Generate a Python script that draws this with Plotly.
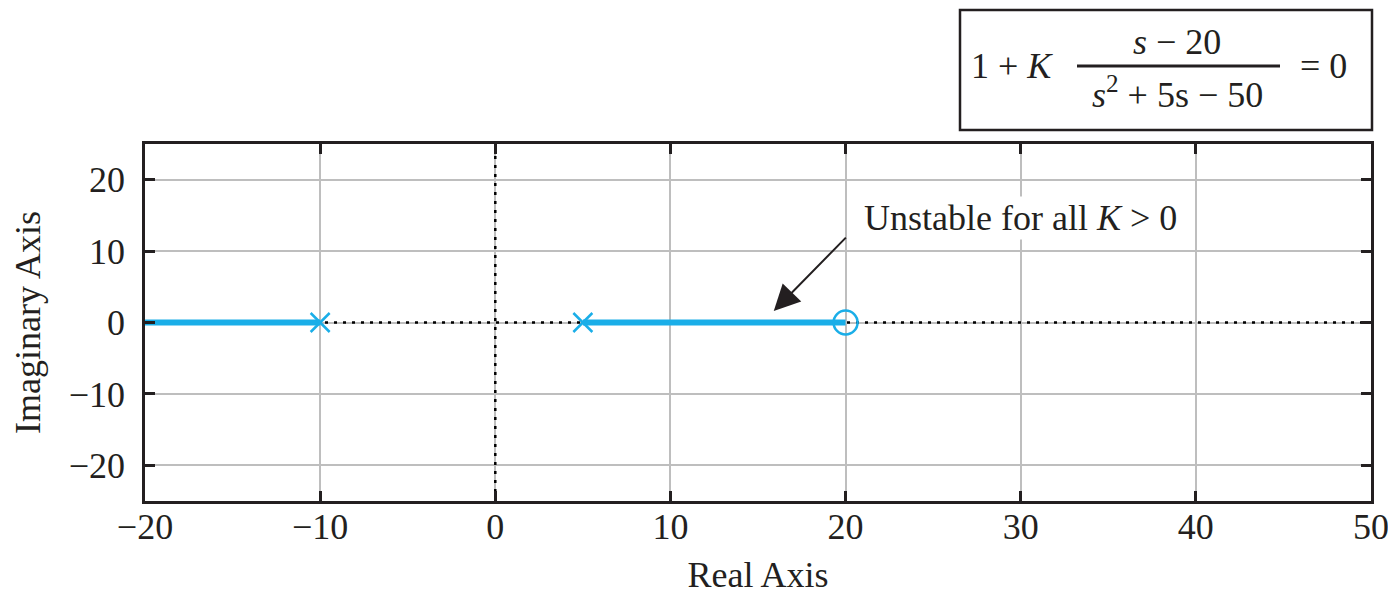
import plotly.graph_objects as go

# Data
poles_re = [-10, 5]
poles_im = [0, 0]
zeros_re = [20]
zeros_im = [0]
branch1_re = [-20, -10]
branch1_im = [0, 0]
branch2_re = [5, 20]
branch2_im = [0, 0]
x_range = [-20, 50]
y_range = [-25, 25]
x_ticks = [-20, -10, 0, 10, 20, 30, 40, 50]
y_ticks = [-20, -10, 0, 10, 20]

BLUE = "#1AAEE8"
INK = "#231F20"
FONT = "Liberation Serif"
FS = 36

fig = go.Figure()

# dotted axes lines through origin
fig.add_trace(go.Scatter(x=x_range, y=[0, 0], mode="lines",
                         line=dict(color="black", width=2.5, dash="3px,6px"),
                         hoverinfo="skip", showlegend=False))
fig.add_trace(go.Scatter(x=[0, 0], y=y_range, mode="lines",
                         line=dict(color="black", width=2.5, dash="3px,6px"),
                         hoverinfo="skip", showlegend=False))

# locus branches
for bx, by in [(branch1_re, branch1_im), (branch2_re, branch2_im)]:
    fig.add_trace(go.Scatter(x=bx, y=by, mode="lines",
                             line=dict(color=BLUE, width=6),
                             showlegend=False))

# poles and zeros
fig.add_trace(go.Scatter(x=poles_re, y=poles_im, mode="markers",
                         marker=dict(symbol="x-thin", size=19,
                                     line=dict(color=BLUE, width=2.5)),
                         showlegend=False))
fig.add_trace(go.Scatter(x=zeros_re, y=zeros_im, mode="markers",
                         marker=dict(symbol="circle-open", size=24,
                                     color=BLUE, line=dict(color=BLUE, width=2.5)),
                         showlegend=False))

# text + arrow annotation
fig.add_annotation(x=20.95, y=14.6, xref="x", yref="y", xanchor="left",
                   yanchor="middle", showarrow=False, bgcolor="white",
                   text="Unstable for all <i>K</i> > 0",
                   font=dict(family=FONT, size=FS, color=INK))
fig.add_annotation(x=15.9, y=1.6, ax=20.1, ay=12.1, axref="x", ayref="y",
                   xref="x", yref="y", text="", showarrow=True,
                   arrowhead=2, arrowsize=2.6, arrowwidth=2, arrowcolor=INK)

# equation box (paper coords computed from page pixel positions)
def px_x(p):
    return (p - 145) / 1226

def px_y(p):
    return (501 - p) / 357

fig.add_shape(type="rect", xref="paper", yref="paper",
              x0=px_x(960), x1=px_x(1372), y0=px_y(130), y1=px_y(10),
              line=dict(color=INK, width=2.5), fillcolor="white")
fig.add_shape(type="line", xref="paper", yref="paper",
              x0=px_x(1077), x1=px_x(1280), y0=px_y(66), y1=px_y(66),
              line=dict(color=INK, width=3))
eq_font = dict(family=FONT, size=FS, color=INK)
for tx, cx, cy in [("1 + <i>K</i>", 1012, 66),
                   ("<i>s</i> − 20", 1177, 42),
                   ("<i>s</i><sup>2</sup> + 5s − 50", 1177, 92),
                   ("= 0", 1323, 66)]:
    fig.add_annotation(xref="paper", yref="paper", x=px_x(cx), y=px_y(cy),
                       xanchor="center", yanchor="middle",
                       text=tx, showarrow=False, font=eq_font)

axis_common = dict(showgrid=True, gridcolor="#BEBEBE", gridwidth=2,
                   zeroline=False, showline=True, linecolor=INK, linewidth=2.5,
                   mirror="ticks", ticks="inside", ticklen=10, tickwidth=2.5,
                   tickcolor=INK, tickfont=dict(family=FONT, size=FS, color=INK))

fig.update_xaxes(range=x_range, tickvals=x_ticks, **axis_common,
                 ticklabelstandoff=-8,
                 title=dict(text="Real Axis", font=dict(family=FONT, size=FS, color=INK),
                            standoff=18))
fig.update_yaxes(range=y_range, tickvals=y_ticks, **axis_common,
                 ticklabelstandoff=10,
                 title=dict(text="Imaginary Axis", font=dict(family=FONT, size=FS, color=INK),
                            standoff=18))

# page body has an 8px margin, so the figure is sized/margined to land the
# plot area at the same page pixels as the reference
fig.update_layout(width=1388, height=587,
                  margin=dict(l=137, r=25, t=136, b=94, autoexpand=False),
                  plot_bgcolor="white", paper_bgcolor="white",
                  showlegend=False)

fig.write_html("out.html")
